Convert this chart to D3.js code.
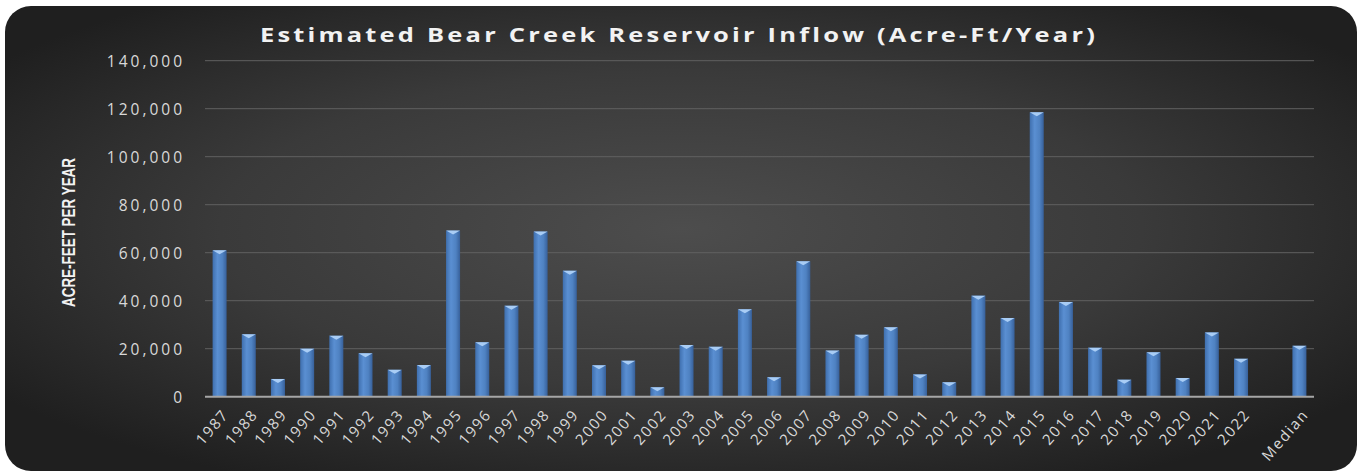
<!DOCTYPE html>
<html><head><meta charset="utf-8">
<script src="https://cdn.jsdelivr.net/npm/d3@7/dist/d3.min.js"></script>
<style>html,body{margin:0;padding:0;background:#fff;}svg{display:block;}</style>
</head><body>
<svg id="chart" width="1362" height="476"></svg>
<script>
const categories = ["1987","1988","1989","1990","1991","1992","1993","1994","1995","1996","1997","1998","1999","2000","2001","2002","2003","2004","2005","2006","2007","2008","2009","2010","2011","2012","2013","2014","2015","2016","2017","2018","2019","2020","2021","2022","","Median"];
const inflow = [61000,26000,7400,20000,25400,18100,11200,13200,69200,22700,37900,68800,52500,13100,15000,3900,21500,20800,36400,8100,56400,19200,25800,28900,9300,6000,42100,32800,118500,39500,20400,7100,18500,7800,26800,15800,null,21200];
const yTicks = [0,20000,40000,60000,80000,100000,120000,140000];
const title = "Estimated Bear Creek Reservoir Inflow (Acre-Ft/Year)";
const yTitle = "ACRE-FEET PER YEAR";

const svg = d3.select("#chart");
const defs = svg.append("defs");
const rg = defs.append("radialGradient").attr("id","bg").attr("cx","50%").attr("cy","48%").attr("r","62%");
rg.append("stop").attr("offset","0%").attr("stop-color","#4d4d4d");
rg.append("stop").attr("offset","55%").attr("stop-color","#3a3a3a");
rg.append("stop").attr("offset","100%").attr("stop-color","#1f1f1f");
const bg = defs.append("linearGradient").attr("id","bar").attr("x1","0").attr("x2","1").attr("y1","0").attr("y2","0");
bg.append("stop").attr("offset","0%").attr("stop-color","#3f6fae");
bg.append("stop").attr("offset","35%").attr("stop-color","#5a8fd2");
bg.append("stop").attr("offset","70%").attr("stop-color","#4f82c2");
bg.append("stop").attr("offset","100%").attr("stop-color","#37609a");

svg.append("rect").attr("x",5).attr("y",6).attr("width",1352).attr("height",465).attr("rx",26).attr("ry",26).attr("fill","url(#bg)");

const m = {left:205, right:1314, top:60.7, bottom:396.7};
const x = d3.scaleBand().domain(categories).range([m.left,m.right]).paddingInner(0.52).paddingOuter(0.26);
const y = d3.scaleLinear().domain([0,140000]).range([m.bottom,m.top]);

// grid
svg.append("g").selectAll("line").data(yTicks.filter(d=>d>0)).join("line")
  .attr("x1",m.left).attr("x2",m.right).attr("y1",d=>y(d)).attr("y2",d=>y(d))
  .attr("stroke","#606060").attr("stroke-width",1);

// y axis labels
const yAxis = d3.axisLeft(y).tickValues(yTicks).tickFormat(d3.format(",")).tickSize(0).tickPadding(0);
const ya = svg.append("g").attr("transform",`translate(${m.left-20},0)`).call(yAxis);
ya.select(".domain").remove();
ya.selectAll("text").attr("fill","#d9d9d9").attr("font-family","'Open Sans', sans-serif").attr("font-size",15.5)
  .attr("letter-spacing","3px").attr("dy","0.35em");

// bars
const data = categories.map((c,i)=>({c, v:inflow[i]})).filter(d=>d.v!=null);
svg.append("g").selectAll("rect").data(data).join("rect")
  .attr("x",d=>x(d.c)).attr("width",x.bandwidth())
  .attr("y",d=>y(d.v)).attr("height",d=>y(0)-y(d.v))
  .attr("fill","url(#bar)");
svg.append("g").selectAll("path").data(data).join("path")
  .attr("d",d=>{const x0=x(d.c), w=x.bandwidth(), t=y(d.v);
    return `M${x0},${t} L${x0+w},${t} L${x0+w/2},${t+4} Z`;})
  .attr("fill","#a9cdf5");

// baseline
svg.append("line").attr("x1",m.left).attr("x2",m.right).attr("y1",y(0)).attr("y2",y(0))
  .attr("stroke","#a6a6a6").attr("stroke-width",2);

// x axis labels
const xAxis = d3.axisBottom(x).tickSize(0).tickPadding(0);
const xa = svg.append("g").attr("transform",`translate(0,${m.bottom+15})`).call(xAxis);
xa.select(".domain").remove();
xa.selectAll("text").attr("fill","#d9d9d9").attr("font-family","'Open Sans', sans-serif").attr("font-size",15)
  .attr("letter-spacing","1.6px")
  .attr("text-anchor","end").attr("y",0).attr("dy","0.35em").attr("transform","translate(6,0) rotate(-49)");

// title
svg.append("text").attr("x",260).attr("y",42).attr("textLength",838).attr("lengthAdjust","spacingAndGlyphs")
  .attr("fill","#f2f2f2").attr("font-family","'Open Sans', sans-serif").attr("font-weight","bold")
  .attr("letter-spacing","2.5px").attr("font-size",20).text(title);

// y title
svg.append("text").attr("transform","translate(75,307) rotate(-90)")
  .attr("textLength",149).attr("lengthAdjust","spacingAndGlyphs")
  .attr("fill","#f2f2f2").attr("font-family","'Liberation Sans',sans-serif").attr("font-weight","bold")
  .attr("font-size",19).text(yTitle);
</script>
</body></html>
